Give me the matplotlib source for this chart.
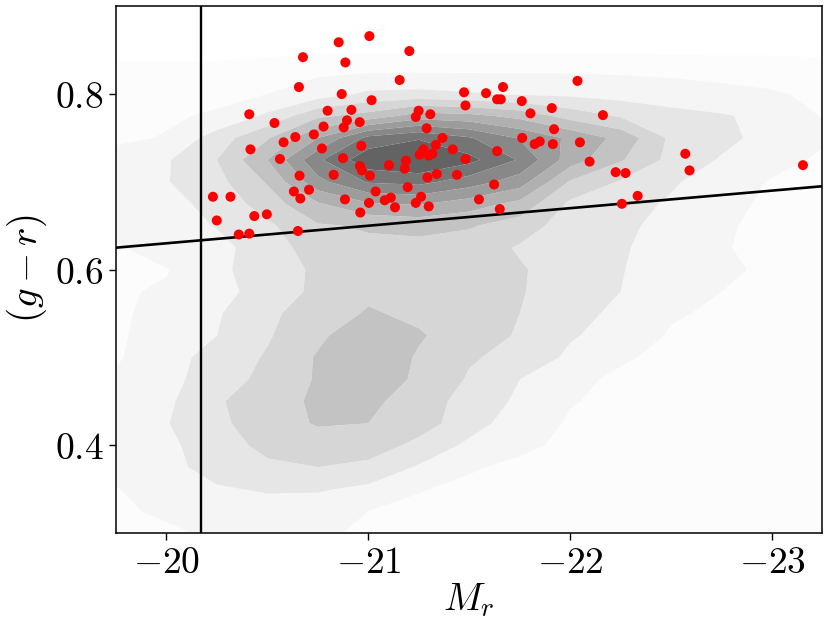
import matplotlib
matplotlib.use("Agg")
import matplotlib.pyplot as plt
import numpy as np

plt.rcParams['mathtext.fontset'] = 'cm'
plt.rcParams['font.family'] = ['DejaVu Serif']

# ---------------- data ----------------
# red points (M_r, g-r)
mr_pts = [-20.676, -20.853, -21.005, -21.203, -20.886, -20.656, -21.155, -20.868, -21.016, -21.474,
          -21.481, -20.410, -20.535, -20.798, -20.916, -20.894, -20.878, -20.957, -20.778, -21.249,
          -21.235, -21.307, -21.289, -20.416, -20.580, -20.638, -20.730, -20.770, -20.965, -21.367,
          -21.334, -21.418, -21.273, -21.254, -21.300, -21.317, -21.481, -20.562, -20.874, -21.186,
          -21.180, -21.102, -20.958, -20.968, -21.008, -20.828, -20.659, -21.293, -21.339, -21.439,
          -21.195, -20.631, -20.706, -20.663, -21.036, -20.884, -21.003, -21.081, -21.111, -21.132,
          -21.261, -21.235, -21.299, -20.960, -20.230, -20.317, -20.249, -20.435, -20.497, -20.358,
          -20.410, -20.651, -21.583, -21.667, -21.638, -21.656, -21.760, -21.803, -21.909, -22.036,
          -22.162, -21.638, -21.762, -21.824, -21.849, -21.914, -21.920, -22.048, -22.096, -22.225,
          -22.274, -21.623, -21.548, -21.651, -22.256, -22.334, -22.570, -22.591, -23.153]
gr_pts = [0.842, 0.859, 0.866, 0.849, 0.836, 0.808, 0.816, 0.800, 0.793, 0.802,
          0.787, 0.777, 0.767, 0.781, 0.782, 0.770, 0.762, 0.768, 0.763, 0.781,
          0.774, 0.777, 0.761, 0.737, 0.745, 0.751, 0.754, 0.738, 0.741, 0.750,
          0.742, 0.737, 0.737, 0.731, 0.730, 0.732, 0.726, 0.726, 0.727, 0.724,
          0.715, 0.719, 0.718, 0.713, 0.707, 0.708, 0.707, 0.705, 0.709, 0.708,
          0.694, 0.689, 0.691, 0.681, 0.689, 0.680, 0.676, 0.679, 0.682, 0.671,
          0.683, 0.676, 0.672, 0.665, 0.683, 0.683, 0.656, 0.661, 0.663, 0.640,
          0.641, 0.644, 0.801, 0.808, 0.794, 0.794, 0.792, 0.778, 0.784, 0.815,
          0.776, 0.735, 0.750, 0.743, 0.746, 0.743, 0.760, 0.745, 0.723, 0.711,
          0.710, 0.697, 0.680, 0.669, 0.675, 0.684, 0.732, 0.713, 0.719]

# density map (contour level) on a coarse grid
mr_grid = [-19.75, -20.0, -20.25, -20.5, -20.75, -21.0, -21.25, -21.5,
           -21.75, -22.0, -22.25, -22.5, -22.75, -23.0, -23.25]
gr_grid = [0.900, 0.875, 0.850, 0.825, 0.800, 0.775, 0.750, 0.725, 0.700,
           0.675, 0.650, 0.625, 0.600, 0.575, 0.550, 0.525, 0.500, 0.475,
           0.450, 0.425, 0.400, 0.375, 0.350, 0.325, 0.300]
density = [
    [0, 0, 0, 0, 0, 0, 0, 0, 0, 0, 0, 0, 0, 0, 0],
    [0, 0, 0, 0, 0, 0, 0, 0, 0, 0, 0, 0, 0, 0, 0],
    [0.1, 0.1, 0.1, 0.1, 0.1, 0.1, 0.1, 0.1, 0.1, 0.1, 0.1, 0.1, 0.1, 0.1, 0.1],
    [0.2, 0.2, 0.2, 0.25, 0.35, 0.45, 0.45, 0.45, 0.45, 0.45, 0.4, 0.35, 0.3, 0.3, 0.25],
    [0.2, 0.25, 0.3, 0.5, 1.0, 1.7, 1.8, 1.6, 1.4, 1.3, 1.1, 0.9, 0.7, 0.55, 0.4],
    [0.3, 0.4, 0.6, 1.7, 3.3, 3.9, 5.0, 4.8, 4.2, 3.1, 2.4, 1.9, 1.6, 1.2, 0.45],
    [0.35, 0.55, 2.0, 3.4, 5.5, 7.8, 8.4, 7.6, 6.4, 5.3, 4.2, 2.3, 1.8, 1.1, 0.7],
    [0.8, 1.4, 2.5, 4.5, 7.3, 9.2, 9.6, 8.8, 7.4, 5.0, 3.6, 2.2, 1.4, 0.9, 0.3],
    [0.9, 1.45, 2.2, 3.6, 6.2, 7.6, 7.8, 7.0, 6.0, 3.4, 2.4, 1.6, 1.1, 0.4, 0.25],
    [0.9, 1.2, 1.8, 3.0, 4.4, 5.4, 5.6, 5.0, 4.2, 2.3, 1.8, 1.4, 0.8, 0.3, 0.2],
    [0.9, 1.1, 1.55, 2.3, 3.4, 3.6, 3.8, 3.6, 3.0, 2.0, 1.7, 1.2, 0.6, 0.3, 0.2],
    [0.4, 1.0, 1.2, 2.0, 3.0, 3.3, 3.2, 3.0, 2.4, 2.0, 1.6, 1.1, 0.55, 0.3, 0.2],
    [0.4, 0.45, 1.2, 2.2, 2.6, 3.3, 3.1, 2.9, 2.6, 2.0, 1.55, 1.0, 0.7, 0.3, 0.2],
    [0.4, 0.6, 1.1, 2.0, 2.7, 3.3, 3.2, 2.9, 2.6, 1.8, 1.5, 0.9, 0.5, 0.3, 0.2],
    [0.4, 0.7, 1.4, 2.3, 3.0, 3.6, 3.3, 2.9, 2.5, 1.8, 1.3, 0.6, 0.35, 0.25, 0.2],
    [0.4, 0.8, 1.5, 2.4, 3.3, 4.2, 3.6, 3.0, 2.4, 1.6, 1.1, 0.4, 0.25, 0.2, 0.2],
    [0.4, 1.1, 1.9, 2.6, 3.6, 4.2, 3.4, 2.6, 2.2, 1.3, 0.6, 0.3, 0.2, 0.2, 0.2],
    [0.6, 1.2, 2.0, 2.8, 3.6, 4.2, 3.3, 2.4, 1.5, 0.7, 0.35, 0.25, 0.2, 0.2, 0.2],
    [0.8, 1.3, 2.4, 3.0, 3.7, 3.8, 2.9, 2.2, 1.3, 0.55, 0.3, 0.25, 0.2, 0.2, 0.2],
    [0.8, 1.45, 2.3, 3.0, 3.6, 3.5, 3.0, 1.9, 1.0, 0.4, 0.25, 0.2, 0.2, 0.2, 0.2],
    [0.8, 1.3, 2.0, 2.8, 3.0, 3.1, 2.2, 1.3, 0.7, 0.3, 0.2, 0.2, 0.2, 0.2, 0.2],
    [0.8, 1.2, 1.9, 2.3, 2.5, 2.2, 1.4, 0.6, 0.3, 0.2, 0.2, 0.2, 0.2, 0.2, 0.2],
    [0.45, 1.0, 1.4, 1.6, 1.6, 1.3, 0.55, 0.3, 0.2, 0.2, 0.2, 0.2, 0.2, 0.2, 0.2],
    [0.4, 0.6, 1.0, 1.1, 1.0, 0.5, 0.3, 0.2, 0.2, 0.2, 0.2, 0.2, 0.2, 0.2, 0.2],
    [0.35, 0.4, 0.6, 0.7, 0.6, 0.4, 0.25, 0.2, 0.2, 0.2, 0.2, 0.2, 0.2, 0.2, 0.2],
]

# reference lines
mr_cut = -20.17
line_point = (-20.0, 0.63)
line_slope = -0.02

x_ticks = [-20, -21, -22, -23]
x_ticklabels = ['$-20$', '$-21$', '$-22$', '$-23$']
y_ticks = [0.4, 0.6, 0.8]
y_ticklabels = ['$0.4$', '$0.6$', '$0.8$']

# ---------------- plot ----------------
fig = plt.figure(figsize=(8.3, 6.32), dpi=100)
ax = fig.add_axes([0.1398, 0.1574, 0.85, 0.8331])

levels = [0.15, 0.5, 1.5, 2.5, 3.5, 4.5, 5.5, 6.5, 7.5, 8.5, 12]
colors = ['#fcfcfc', '#f5f5f5', '#e6e6e6', '#d6d6d6', '#c3c3c3',
          '#b0b0b0', '#9c9c9c', '#888888', '#757575', '#636363']
ax.contourf(np.array(mr_grid), np.array(gr_grid), np.array(density),
            levels=levels, colors=colors, zorder=1, antialiased=True)

ax.axvline(mr_cut, color='black', lw=1.7, zorder=3)
ax.axline(line_point, slope=line_slope, color='black', lw=1.9, zorder=3)

ax.scatter(mr_pts, gr_pts, s=52, color='red', edgecolors='none', zorder=4)

ax.set_xlim(-19.75, -23.245)
ax.set_ylim(0.3005, 0.9003)
ax.set_xticks(x_ticks)
ax.set_xticklabels(x_ticklabels)
ax.set_yticks(y_ticks)
ax.set_yticklabels(y_ticklabels)
ax.tick_params(axis='both', labelsize=27, length=5, width=1.0, direction='out',
               top=False, right=False, pad=4)
for s in ax.spines.values():
    s.set_linewidth(1.1)

ax.set_xlabel('$M_r$', fontsize=28, labelpad=0)
ax.set_ylabel('$(g-r)$', fontsize=28, labelpad=4)

fig.savefig('out.png', dpi=100)
